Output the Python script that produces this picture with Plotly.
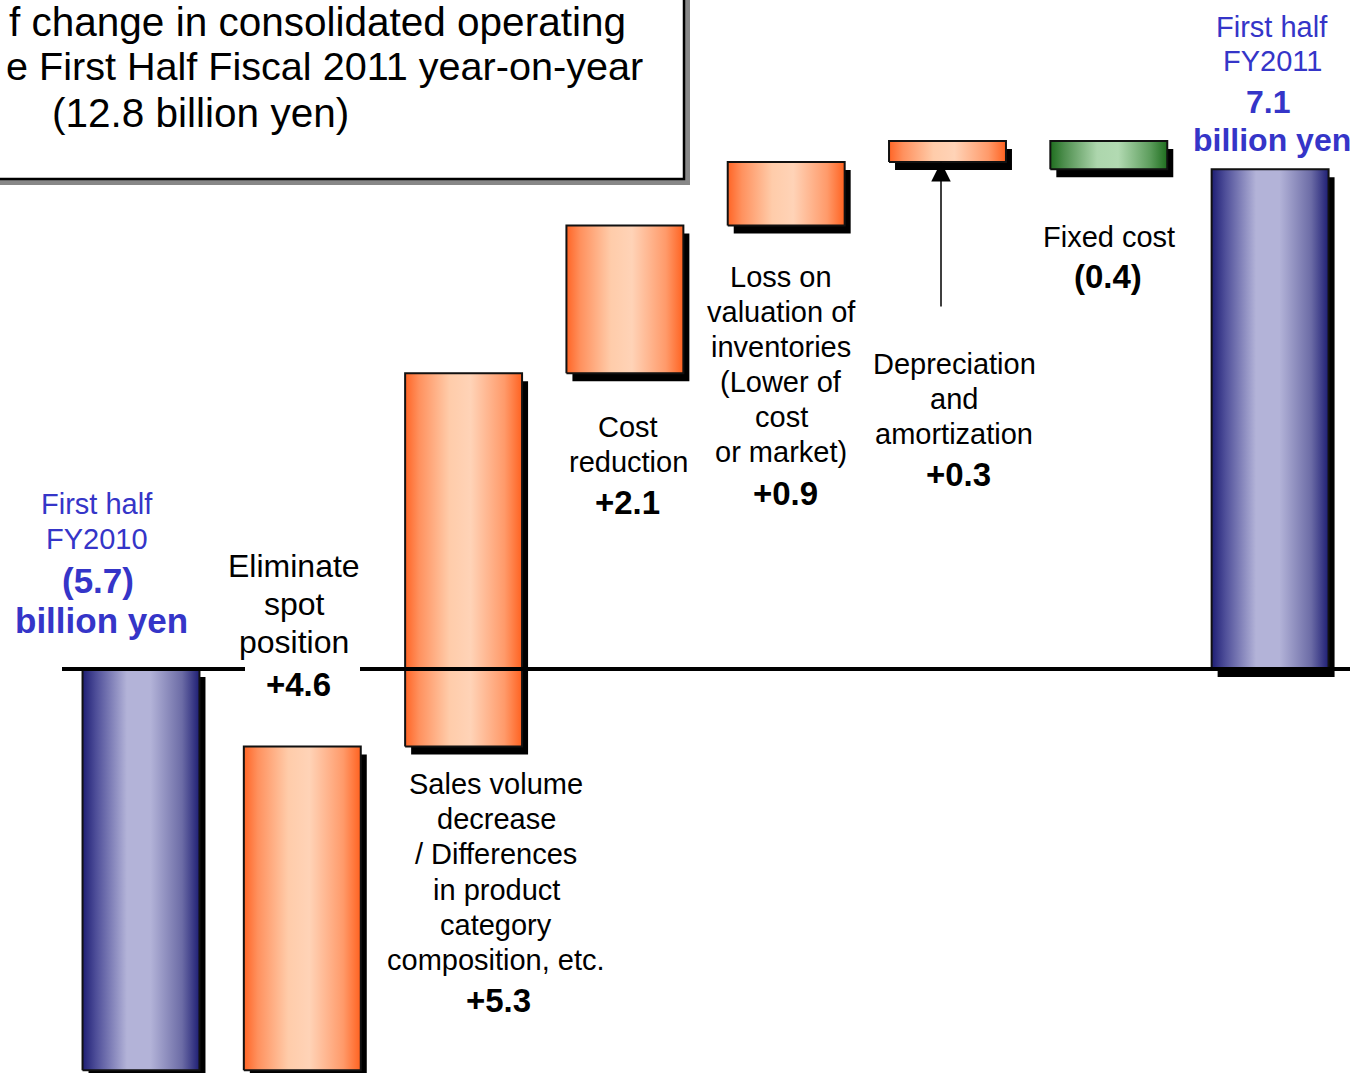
import plotly.graph_objects as go

# ---- data -------------------------------------------------------------
categories = [
    "First half FY2010",
    "Eliminate spot position",
    "Sales volume decrease / Differences in product category composition, etc.",
    "Cost reduction",
    "Loss on valuation of inventories (Lower of cost or market)",
    "Depreciation and amortization",
    "Fixed cost",
    "First half FY2011",
]
values = [-5.7, 4.6, 5.3, 2.1, 0.9, 0.3, -0.4, 7.1]
kinds = ["total", "delta", "delta", "delta", "delta", "delta", "delta", "total"]

# text drawn next to each bar, one entry per line
label_lines = [
    ["First half", "FY2010"],
    ["Eliminate", "spot", "position"],
    ["Sales volume", "decrease", "/ Differences", "in product", "category", "composition, etc."],
    ["Cost", "reduction"],
    ["Loss on", "valuation of", "inventories", "(Lower of", "cost", "or market)"],
    ["Depreciation", "and", "amortization"],
    ["Fixed cost"],
    ["First half", "FY2011"],
]
unit_text = "billion yen"
title_lines = [
    "f change in consolidated operating",
    "e First Half Fiscal 2011 year-on-year",
    "(12.8 billion yen)",
]

# ---- canvas / scales ---------------------------------------------------
W, H = 1355, 1073
ZERO_PX = 669          # pixel row of the zero line
K = 70.4               # pixels per billion yen
X0_PX, DX = 141, 161.3 # first bar centre, spacing between bars
BAR_W = 0.725
SH_X, SH_Y = 6 / DX, 8 / K   # drop-shadow offset in axis units

FONT = "Arial, Liberation Sans, sans-serif"
BLUE_TXT = "#3535C8"


def px(x):
    return x / W


def py(y):
    return 1 - y / H


def fmt_value(v, kind):
    s = f"{abs(v):.1f}"
    if v < 0:
        return f"({s})"
    return s if kind == "total" else f"+{s}"


GRADIENTS = {
    "total": [[0, "#1E1E74"], [0.12, "#50509A"], [0.38, "#B3B3D8"],
              [0.58, "#B3B3D8"], [0.85, "#6C6CA6"], [1, "#1E1E74"]],
    "up": [[0, "#FF6526"], [0.12, "#FF915E"], [0.38, "#FFCCAA"],
           [0.56, "#FFD3B7"], [0.85, "#FF9A6A"], [1, "#FF6220"]],
    "down": [[0, "#1F6E1F"], [0.12, "#4F8F4F"], [0.4, "#ADD6AD"],
             [0.58, "#B2DAB2"], [0.85, "#5E9E5E"], [1, "#1F6E1F"]],
}

fig = go.Figure()

# waterfall geometry
running = 0.0
bars = []
for i, (v, kind) in enumerate(zip(values, kinds)):
    if kind == "total":
        lo, hi = min(0, v), max(0, v)
        running = v
        style = "total"
    else:
        start = running
        running = round(running + v, 6)
        lo, hi = min(start, running), max(start, running)
        style = "up" if v >= 0 else "down"
    bars.append((i, lo, hi, style))

# shadows first
for i, lo, hi, style in bars:
    x0, x1 = i - BAR_W / 2 + SH_X, i + BAR_W / 2 + SH_X
    fig.add_trace(go.Scatter(
        x=[x0, x1, x1, x0, x0],
        y=[lo - SH_Y, lo - SH_Y, hi - SH_Y, hi - SH_Y, lo - SH_Y],
        mode="lines", fill="toself", fillcolor="#000000",
        line=dict(color="#000000", width=0), hoverinfo="skip", showlegend=False,
    ))

# gradient-filled bars
for i, lo, hi, style in bars:
    x0, x1 = i - BAR_W / 2, i + BAR_W / 2
    fig.add_trace(go.Scatter(
        x=[x0, x1, x1, x0, x0],
        y=[lo, lo, hi, hi, lo],
        mode="lines", fill="toself",
        fillgradient=dict(type="horizontal", colorscale=GRADIENTS[style]),
        line=dict(color="#111111", width=2),
        name=categories[i], showlegend=False,
    ))

shapes = [
    # zero line
    dict(type="line", xref="paper", yref="y", x0=px(62), x1=px(1350), y0=0, y1=0,
         line=dict(color="black", width=4), layer="above"),
    # white backing of the "+4.6" label where it crosses the zero line
    dict(type="rect", xref="paper", yref="paper", x0=px(245), x1=px(360),
         y0=py(678), y1=py(661), fillcolor="white", line=dict(width=0), layer="above"),
    # title box shadow and frame
    dict(type="rect", xref="paper", yref="paper", x0=px(-20), x1=px(690),
         y0=py(185), y1=py(-20), fillcolor="#888888", line=dict(width=0), layer="above"),
    dict(type="rect", xref="paper", yref="paper", x0=px(-20), x1=px(684),
         y0=py(179), y1=py(-20), fillcolor="white",
         line=dict(color="black", width=2.5), layer="above"),
]

annotations = []


def add_text(text, x, y, size, color="black", bold=False, **kw):
    if bold:
        text = f"<b>{text}</b>"
    a = dict(text=text, x=px(x), y=py(y), xref="paper", yref="paper",
             xanchor="center", yanchor="middle", showarrow=False,
             font=dict(family=FONT, size=size, color=color))
    a.update(kw)
    annotations.append(a)


# title
add_text(title_lines[0], 628, 22, 40.5, xanchor="right")
add_text(title_lines[1], 645, 66, 39.6, xanchor="right")
add_text(title_lines[2], 200, 113, 40.5)

# placement of each bar's labels: x, first line y, line spacing, font size,
# value x, value y, value font size
label_pos = [
    (97, 504, 35, 29, 98, 580, 35),
    (294, 566, 38, 32, 298, 684, 33),
    (496, 784, 35.2, 29, 498, 1000, 33),
    (628, 427, 35, 29, 627, 502, 33),
    (781, 277, 35, 29, 785, 494, 33),
    (954, 364, 35, 29, 958, 474, 33),
    (1109, 237, 35, 29, 1108, 276, 33),
    (1272, 27, 34, 29, 1268, 102, 32),
]

for i, (lx, ly, ls, fs, vx, vy, vfs) in enumerate(label_pos):
    kind = kinds[i]
    color = BLUE_TXT if kind == "total" else "black"
    for j, line in enumerate(label_lines[i]):
        add_text(line, lx, ly + j * ls, fs, color=color)
    vtxt = fmt_value(values[i], kind)
    add_text(vtxt, vx, vy, vfs, color=color, bold=True)
    if kind == "total":
        add_text(unit_text, vx + 4, vy + (40 if i == 0 else 38), vfs, color=color, bold=True)

# pointer from the depreciation label up to its (thin) bar
dep = bars[5]
annotations.append(dict(
    x=px(941), y=dep[1], xref="paper", yref="y", text="", showarrow=True,
    ax=0, ay=146, arrowhead=2, arrowsize=2.6, arrowwidth=1.5, arrowcolor="black",
    standoff=0,
))

fig.update_layout(
    width=W, height=H,
    margin=dict(l=0, r=0, t=0, b=0),
    paper_bgcolor="white", plot_bgcolor="white",
    xaxis=dict(range=[-X0_PX / DX, (W - X0_PX) / DX], visible=False, fixedrange=True),
    yaxis=dict(range=[-(H - ZERO_PX) / K, ZERO_PX / K], visible=False, fixedrange=True),
    shapes=shapes,
    annotations=annotations,
    showlegend=False,
)

fig.write_html("out.html", config={"displayModeBar": False})
